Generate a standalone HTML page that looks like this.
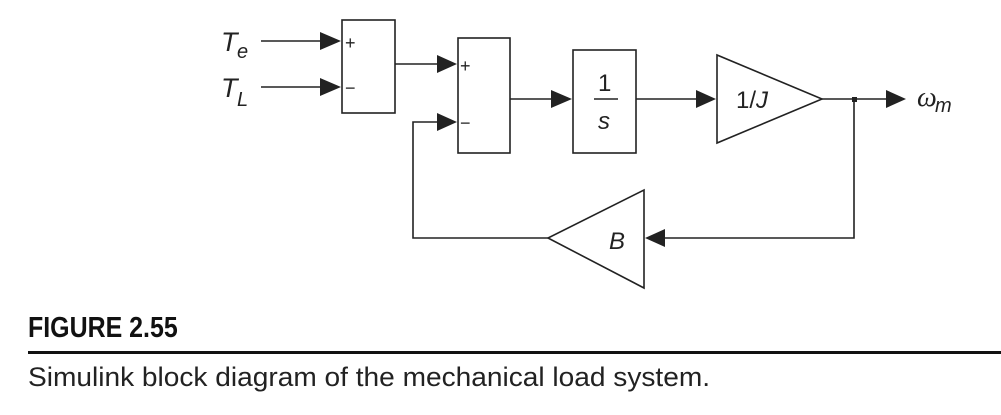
<!DOCTYPE html>
<html><head><style>
body{margin:0;background:#fff;width:1001px;height:415px;overflow:hidden;position:relative;font-family:"Liberation Sans",sans-serif}
.fig{position:absolute;left:28px;top:312px;font-weight:bold;font-size:29px;line-height:32px;color:#111;transform:scaleX(0.86);transform-origin:left top;white-space:nowrap}
.rule{position:absolute;left:28px;top:351px;width:973px;height:3px;background:#111}
.cap{position:absolute;left:28px;top:361px;font-size:27px;line-height:32px;color:#222;transform:scaleX(1.04);transform-origin:left top;white-space:nowrap}
</style></head><body>
<svg width="1001" height="300" style="position:absolute;left:0;top:0" font-family="Liberation Sans, sans-serif">
<g stroke="#222" stroke-width="1.6" fill="none">
<rect x="342" y="20" width="53" height="93"/>
<rect x="458" y="38" width="52" height="115"/>
<rect x="573" y="50" width="63" height="103"/>
<polygon points="717,55 717,143 822,99"/>
<polygon points="644,190 644,288 548,238"/>
<line x1="261" y1="41" x2="325" y2="41"/>
<line x1="261" y1="87" x2="325" y2="87"/>
<line x1="395" y1="64" x2="442" y2="64"/>
<line x1="510" y1="99" x2="556" y2="99"/>
<line x1="636" y1="99" x2="700" y2="99"/>
<line x1="822" y1="99" x2="888" y2="99"/>
<polyline points="854,99 854,238 664,238"/>
<polyline points="548,238 413,238 413,122 442,122"/>
<line x1="594" y1="99" x2="618" y2="99"/>
</g>
<g fill="#222">
<polygon points="320,32 341,41 320,50"/>
<polygon points="320,78 341,87 320,96"/>
<polygon points="437,55 457,64 437,73"/>
<polygon points="437,113 457,122 437,131"/>
<polygon points="551,90 572,99 551,108"/>
<polygon points="696,90 716,99 696,108"/>
<polygon points="886,90 906,99 886,108"/>
<polygon points="665,229 645,238 665,247"/>
<rect x="852" y="97" width="5" height="5"/>
</g>
<g fill="#222" font-size="24">
<text x="221" y="51" font-style="italic" font-size="27">T</text><text x="237" y="58" font-style="italic" font-size="20">e</text>
<text x="221" y="97" font-style="italic" font-size="27">T</text><text x="237" y="106" font-style="italic" font-size="20">L</text>
<text x="345" y="49" font-size="18">+</text><text x="345" y="94" font-size="18">−</text>
<text x="460" y="72" font-size="18">+</text><text x="460" y="129" font-size="18">−</text>
<text x="598" y="91">1</text>
<text x="598" y="129" font-style="italic">s</text>
<text x="736" y="108">1/<tspan font-style="italic">J</tspan></text>
<text x="609" y="249" font-style="italic">B</text>
<text x="917" y="106" font-style="italic" font-size="28" font-family="Liberation Serif, serif">ω</text>
<text x="935" y="112" font-style="italic" font-size="20">m</text>
</g>
</svg>
<div class="fig">FIGURE 2.55</div>
<div class="rule"></div>
<div class="cap">Simulink block diagram of the mechanical load system.</div>
</body></html>
